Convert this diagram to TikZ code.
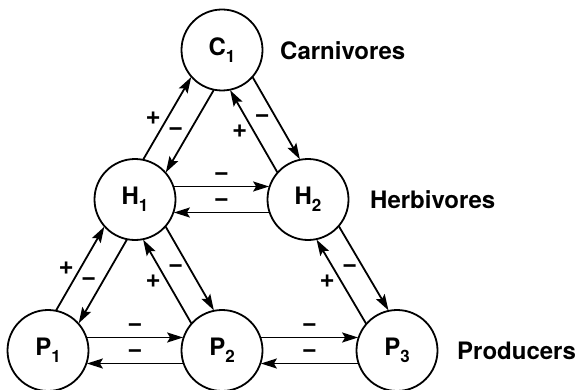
\documentclass[tikz,border=0pt]{standalone}
\usepackage{fontspec}
\setmainfont{TeX Gyre Heros}
\usetikzlibrary{calc,arrows.meta}
\newcommand\sbs[1]{\raisebox{-0.28em}{\fontsize{17pt}{17pt}\selectfont #1}}
\newcommand\R{41pt}
\newcommand\dd{18.5}
\newcommand\link[4]{\draw[conn] ($(#1)!\R!\dd:(#2)$) -- node[lab,#4]{#3} ($(#2)!\R!-\dd:(#1)$);}
\begin{document}
\begin{tikzpicture}[x=1pt,y=-1pt,
  font=\fontsize{24pt}{26pt}\selectfont\bfseries,
  pop/.style={circle,draw,line width=1.8pt,minimum size=81pt,inner sep=0pt},
  conn/.style={line width=1.8pt,-{Stealth[length=16pt,width=10pt,inset=3pt]}},
  lab/.style={midway,inner sep=0pt,font=\fontsize{26pt}{28pt}\selectfont\bfseries},
  diag/.style={xshift=-14pt},
  horiz/.style={yshift=10pt},
  grp/.style={anchor=west,inner sep=0pt}]
\useasboundingbox (0,0) rectangle (577,390);
\node[pop] (C1) at (222,50) {C\sbs{1}};
\node[pop] (H1) at (135,199.5) {H\sbs{1}};
\node[pop] (H2) at (308,199.5) {H\sbs{2}};
\node[pop] (P1) at (48,350.5) {P\sbs{1}};
\node[pop] (P2) at (222,350.5) {P\sbs{2}};
\node[pop] (P3) at (397,350.5) {P\sbs{3}};
\node[grp] (lc) at (280,51) {Carnivores};
\node[grp] (lh) at (370,199.5) {Herbivores};
\node[grp] (lp) at (457,351) {Producers};
\link{H1}{C1}{+}{diag}
\link{C1}{H1}{−}{diag}
\link{H2}{C1}{+}{diag}
\link{C1}{H2}{−}{diag}
\link{H1}{H2}{−}{horiz}
\link{H2}{H1}{−}{horiz}
\link{P1}{H1}{+}{diag}
\link{H1}{P1}{−}{diag}
\link{P2}{H1}{+}{diag}
\link{H1}{P2}{−}{diag}
\link{P3}{H2}{+}{diag}
\link{H2}{P3}{−}{diag}
\link{P1}{P2}{−}{horiz}
\link{P2}{P1}{−}{horiz}
\link{P2}{P3}{−}{horiz}
\link{P3}{P2}{−}{horiz}
\end{tikzpicture}
\end{document}
